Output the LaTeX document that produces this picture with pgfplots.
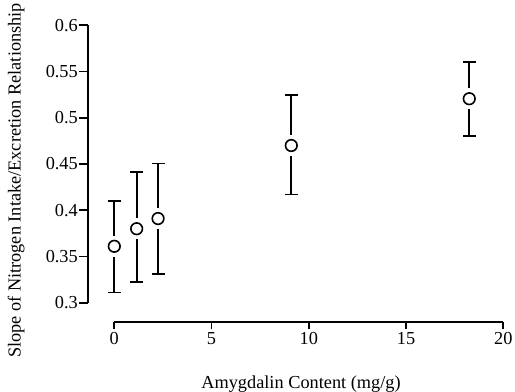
\documentclass[border=0pt]{standalone}
\usepackage{fontspec}
\setmainfont{Liberation Serif}
\usepackage{pgfplots}
\pgfplotsset{compat=1.18}
\usepackage{pgfplotstable}

\pgfplotstableread{
x y ep em
0 0.361 0.049 0.050
1.15 0.380 0.061 0.058
2.25 0.391 0.0595 0.060
9.1 0.470 0.0545 0.053
18.25 0.5206 0.0394 0.040
}\datatable

\newcommand{\labfont}{\fontsize{18.3bp}{20bp}\selectfont}

\begin{document}
\begin{tikzpicture}
\useasboundingbox (-88bp,-89.3bp) rectangle (427bp,302.7bp);
\begin{axis}[
 at={(0,0)}, anchor=south west,
 scale only axis, width=415.3bp, height=277.4bp,
 xmin=-1.352, xmax=20, ymin=0.3, ymax=0.6,
 axis x line=none, axis y line=left,
 axis line style={-, line width=1.8bp},
 ytick={0.3,0.35,0.4,0.45,0.5,0.55,0.6},
 yticklabels={0.3,0.35,0.4,0.45,0.5,0.55,0.6},
 tick align=outside, major tick length=9bp,
 tick style={line width=1.8bp, black},
 yticklabel style={font=\labfont, inner sep=1bp},
 ylabel={Slope of Nitrogen Intake/Excretion Relationship},
 ylabel style={font=\labfont, at={(axis description cs:-0.1727,0.4405)}, anchor=center},
 clip=false,
]
\addplot[only marks, mark=o, black,
  error bars/.cd, y dir=both, y explicit,
  error bar style={line width=1.8bp, black},
  error mark options={rotate=90, black, line width=1.8bp, mark size=6.5bp}]
  table[x=x, y=y, y error plus=ep, y error minus=em]{\datatable};
\addplot[white, only marks, mark=*, mark size=10bp, mark options={draw=white, fill=white, line width=0pt}]
  table[x=x, y=y]{\datatable};
\addplot[black, only marks, mark=o, mark size=5.8bp, mark options={line width=1.6bp, draw=black, fill=white}]
  table[x=x, y=y]{\datatable};
\end{axis}
\begin{axis}[
 at={(26.3bp,-19bp)}, anchor=south west,
 scale only axis, width=389bp, height=10bp,
 xmin=0, xmax=20, ymin=0, ymax=1,
 axis x line=bottom, axis y line=none,
 axis line style={-, line width=1.8bp},
 xtick={0,5,10,15,20}, xticklabels={0,5,10,15,20},
 tick align=outside, major tick length=7.5bp,
 tick style={line width=1.8bp, black},
 xticklabel style={font=\labfont},
 xlabel={Amygdalin Content (mg/g)},
 xlabel style={font=\labfont, at={(axis description cs:0.5,0)}, anchor=base, yshift=-66.5bp, xshift=-7.8bp},
]
\end{axis}
\end{tikzpicture}
\end{document}
